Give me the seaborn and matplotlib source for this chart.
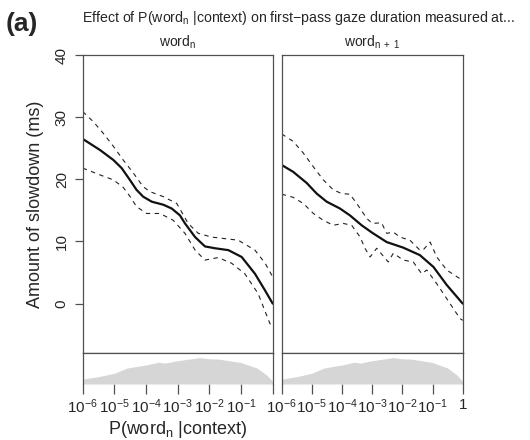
import numpy as np
import pandas as pd
import seaborn as sns
import matplotlib
matplotlib.use("Agg")
from matplotlib import pyplot as plt

# x positions are log10 P(word_n | context)
left_x = [-6, -5.45, -5.03, -4.77, -4.51, -4.3, -4.09, -3.82, -3.45, -3.19, -2.93, -2.77, -2.45, -2.14, -1.82, -1.4, -0.98, -0.56, -0.24, 0]
left_mean = [26.5, 24.7, 23.1, 21.8, 19.9, 18.3, 17.2, 16.4, 15.9, 15.3, 14.2, 12.9, 10.7, 9.2, 8.9, 8.6, 7.5, 4.8, 2.1, 0]

left_up_x = [-6, -5.67, -5.35, -5.03, -4.72, -4.4, -4.09, -3.87, -3.45, -3.03, -2.67, -2.35, -1.93, -1.09, -0.56, -0.24, 0]
left_up = [30.9, 29.3, 27.4, 25.3, 23.1, 21.0, 18.8, 18.0, 17.2, 16.1, 12.9, 11.3, 10.7, 10.2, 8.6, 6.5, 4.3]

left_lo_x = [-6, -5.45, -5.03, -4.72, -4.5, -4.3, -3.98, -3.56, -3.14, -2.77, -2.45, -2.14, -1.72, -1.3, -0.88, -0.46, -0.09, 0]
left_lo = [21.8, 20.7, 19.9, 18.7, 17.2, 15.6, 14.5, 14.5, 13.4, 11.3, 8.6, 7.0, 7.4, 6.5, 4.8, 1.6, -3.2, -3.8]

right_x = [-6, -5.62, -5.17, -4.84, -4.51, -4.07, -3.74, -3.35, -3.0, -2.52, -1.97, -1.42, -0.97, -0.53, 0]
right_mean = [22.3, 21.2, 19.4, 17.7, 16.4, 15.3, 14.2, 12.6, 11.4, 9.9, 9.0, 7.8, 5.9, 3.0, 0]

right_up_x = [-6, -5.62, -5.28, -4.95, -4.62, -4.29, -4.01, -3.74, -3.51, -3.18, -3.0, -2.69, -2.52, -2.3, -2.08, -1.75, -1.42, -1.3, -1.08, -0.86, -0.53, -0.09, 0]
right_up = [27.3, 26.1, 24.2, 22.0, 19.9, 18.3, 17.7, 17.6, 16.1, 13.7, 12.9, 13.0, 11.3, 11.5, 10.7, 10.2, 8.6, 8.7, 9.9, 7.5, 5.4, 4.0, 4.1]

right_lo_x = [-6, -5.62, -5.28, -4.95, -4.62, -4.29, -3.96, -3.68, -3.4, -3.24, -3.07, -2.85, -2.47, -2.3, -1.97, -1.64, -1.36, -1.19, -0.86, -0.42, -0.09, 0]
right_lo = [17.6, 17.1, 16.1, 14.5, 13.4, 12.6, 12.9, 12.6, 10.7, 8.9, 7.5, 8.9, 6.7, 8.1, 7.0, 6.7, 4.8, 5.4, 3.2, 0.0, -2.4, -2.7]

# relative density of log10 P (strip under each panel)
dens_x = [-6, -5.5, -5, -4.6, -4.0, -3.6, -3.4, -3.0, -2.3, -2.0, -1.7, -1.0, -0.5, -0.2, 0]
dens_y = [0.16, 0.24, 0.35, 0.52, 0.62, 0.71, 0.68, 0.76, 0.86, 0.82, 0.81, 0.70, 0.52, 0.30, 0.09]

y_ticks = [0, 10, 20, 30, 40]
x_ticks = [-6, -5, -4, -3, -2, -1, 0]
x_labels_left = [r"$10^{-6}$", r"$10^{-5}$", r"$10^{-4}$", r"$10^{-3}$", r"$10^{-2}$", r"$10^{-1}$", ""]
x_labels_right = [r"$10^{-6}$", r"$10^{-5}$", r"$10^{-4}$", r"$10^{-3}$", r"$10^{-2}$", r"$10^{-1}$", "1"]

sns.set_style("white")
plt.rcParams["font.family"] = ["Liberation Sans", "DejaVu Sans"]
plt.rcParams["mathtext.fontset"] = "custom"
plt.rcParams["mathtext.rm"] = "Liberation Sans"
plt.rcParams["mathtext.it"] = "Liberation Sans"

W, H = 530, 440
fig = plt.figure(figsize=(W / 100, H / 100), dpi=100)

def frac(x0, x1, y0, y1):
    return [x0 / W, 1 - y1 / H, (x1 - x0) / W, (y1 - y0) / H]

edge = "#505050"
panels = [
    (82.7, 272.7, left_x, left_mean, left_up_x, left_up, left_lo_x, left_lo, x_labels_left, r"word$_\mathregular{n}$"),
    (281.7, 462.7, right_x, right_mean, right_up_x, right_up, right_lo_x, right_lo, x_labels_right, r"word$_\mathregular{n\ +\ 1}$"),
]

for i, (x0, x1, mx, my, ux, uy, lx, ly, xl, title) in enumerate(panels):
    ax = fig.add_axes(frac(x0, x1, 55, 353.3))
    sns.lineplot(x=mx, y=my, ax=ax, color="#111111", lw=1.6, sort=False, estimator=None)
    sns.lineplot(x=ux, y=uy, ax=ax, color="#222222", lw=0.8, sort=False, estimator=None)
    sns.lineplot(x=lx, y=ly, ax=ax, color="#222222", lw=0.8, sort=False, estimator=None)
    ax.lines[0].set_solid_joinstyle("round")
    for ln in ax.lines[1:]:
        ln.set_linestyle((0, (4, 4)))
    ax.set_xlim(-6, 0)
    ax.set_ylim(-8, 40)
    ax.set_xticks([])
    for s in ax.spines.values():
        s.set_color(edge)
        s.set_linewidth(0.9)
    if i == 0:
        ax.set_yticks(y_ticks)
        ax.set_yticklabels([str(t) for t in y_ticks], rotation=90, va="center", fontsize=11)
        ax.tick_params(axis="y", length=6, width=0.9, color=edge, pad=4, left=True)
        ax.set_ylabel("Amount of slowdown (ms)", fontsize=13, labelpad=8)
    else:
        ax.set_yticks([])
    ax.set_title(title, fontsize=10, pad=6)

    sx = fig.add_axes(frac(x0, x1, 353.3, 384))
    sx.fill_between(dens_x, 0, dens_y, color="#d6d6d6", lw=0)
    sx.set_xlim(-6, 0)
    sx.set_ylim(0, 1)
    sx.set_yticks([])
    sx.set_xticks(x_ticks)
    sx.set_xticklabels(xl, fontsize=11)
    sx.tick_params(axis="x", length=7, width=0.9, color=edge, pad=3, bottom=True)
    for s in sx.spines.values():
        s.set_color(edge)
        s.set_linewidth(0.9)
    sx.spines["bottom"].set_visible(False)
    if i == 0:
        sx.set_xlabel(r"P(word$_\mathregular{n}$ |context)", fontsize=13, labelpad=2)

fig.text(82 / W, 1 - 18 / H, r"Effect of P(word$_\mathregular{n}$ |context) on first$-$pass gaze duration measured at...",
         fontsize=10.2, va="center", ha="left")
fig.text(6 / W, 1 - 24 / H, "(a)", fontsize=19, fontweight="bold", va="center", ha="left")

fig.savefig("out.png", dpi=100)
